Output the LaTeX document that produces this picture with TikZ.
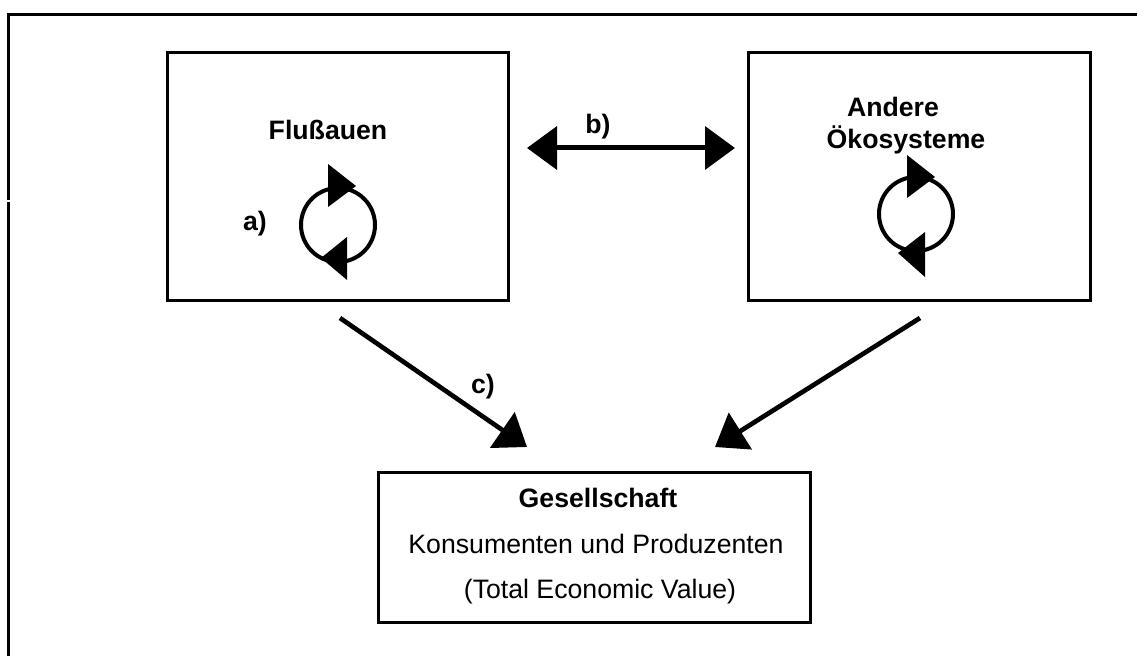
\documentclass[tikz,border=0pt]{standalone}
\usepackage{fontspec}
\setmainfont{Liberation Sans}
\usetikzlibrary{arrows.meta}
\begin{document}
\begin{tikzpicture}[x=0.75pt,y=-0.75pt,
  frameline/.style={line width=2.25pt},
  boxst/.style={draw, line width=2.25pt, inner sep=0pt},
  lbl/.style={font=\fontsize{20}{24}\selectfont\bfseries, anchor=base, inner sep=0pt},
  txt/.style={font=\fontsize{20}{24}\selectfont, anchor=base, inner sep=0pt},
  bigtip/.tip={Triangle[length=22.5pt,width=32pt]},
  conn/.style={line width=3.5pt, -bigtip},
  dconn/.style={line width=3.75pt, bigtip-bigtip},
  cyc/.style={line width=3pt},
]
\useasboundingbox (0,0) rectangle (1146,656);
% outer frame (partly visible)
\draw[frameline, line join=miter] (8,200) -- (8,15) -- (1137,15);
\draw[frameline] (8,202) -- (8,656);

% boxes
\node[boxst, minimum width=255.75pt, minimum height=185.25pt] (fluss) at (337.5,176.5) {};
\node[boxst, minimum width=256.5pt, minimum height=185.25pt] (andere) at (919,176.5) {};
\node[boxst, minimum width=324pt, minimum height=112.5pt] (ges) at (594,547) {};

% texts
\node[lbl] (tfluss) at (328,140) {Flußauen};
\node[lbl] (tand1) at (893,117) {Andere};
\node[lbl] (tand2) at (906,149) {Ökosysteme};
\node[lbl] (ta) at (255,230) {a)};
\node[lbl] (tb) at (598,134) {b)};
\node[lbl] (tc) at (483,393) {c)};
\node[lbl] (tges1) at (598,507) {Gesellschaft};
\node[txt] (tges2) at (596,553) {Konsumenten und Produzenten};
\node[txt] (tges3) at (600,598) {(Total Economic Value)};

% connectors
\coordinate (bL) at (527,148);
\coordinate (bR) at (735,148);
\draw[dconn] (bL) -- (bR);
\coordinate (c1s) at (340,318);
\coordinate (c1e) at (527,447);
\draw[conn] (c1s) -- (c1e);
\coordinate (c2s) at (920,318);
\coordinate (c2e) at (715,447);
\draw[conn] (c2s) -- (c2e);

% cycle a)
\draw[cyc] (338,225) circle[radius=37];
\fill (328,164) -- (328,207) -- (356,186) -- cycle;
\fill (347,237) -- (347,280) -- (321,258) -- cycle;
% cycle in Andere
\draw[cyc] (916,214) circle[radius=37];
\fill (907,155) -- (907,198) -- (935,177) -- cycle;
\fill (925,232) -- (925,277) -- (898,253) -- cycle;
\end{tikzpicture}
\end{document}
